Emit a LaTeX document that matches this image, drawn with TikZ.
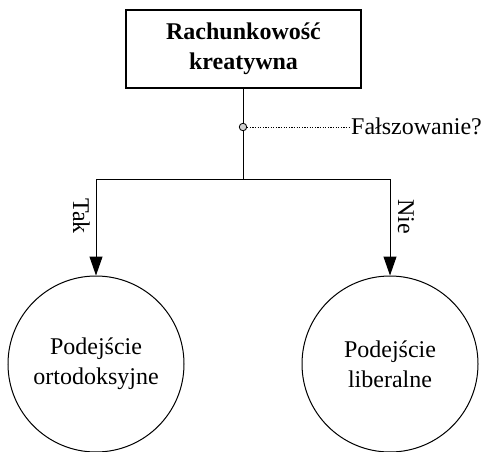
\documentclass[tikz,border=0pt]{standalone}
\usepackage{fontspec}
\setmainfont{Liberation Serif}
\usetikzlibrary{arrows.meta}
\tikzset{
  titlebox/.style={draw, line width=1.4pt, minimum width=235pt, minimum height=78pt,
    align=center, font=\fontsize{24}{30}\selectfont\bfseries, inner sep=0pt},
  approach/.style={draw, circle, line width=1pt, minimum size=176pt, align=center,
    font=\fontsize{24}{30}\selectfont, inner sep=0pt},
  lbl/.style={font=\fontsize{24}{30}\selectfont, inner sep=0pt},
  sidelbl/.style={lbl, rotate=-90, anchor=base west},
  wire/.style={line width=1pt},
  branch/.style={wire, -{Triangle[length=19pt,width=13pt]}},
  joint/.style={draw, circle, fill=black!18, line width=0.8pt, minimum size=7.5pt, inner sep=0pt},
  leader/.style={line width=1pt, dash pattern=on 1.2pt off 1.4pt}
}
\begin{document}
\begin{tikzpicture}[x=1pt,y=-1pt]
  \useasboundingbox (0,0) rectangle (487,452);
  % decision box and the question on its stem
  \node[titlebox] (top) at (243.5,49) {Rachunkowość\\kreatywna};
  \node[joint] (q) at (243,127) {};
  \node[lbl, anchor=base west] (ask) at (351,134) {Fałszowanie?};
  \coordinate (split) at (243,179);
  \coordinate (lsplit) at (96,179);
  \coordinate (rsplit) at (390,179);
  % outcomes
  \node[approach] (left) at (96,364) {Podejście\\ortodoksyjne};
  \node[approach] (right) at (390,364) {Podejście\\liberalne};
  \draw[wire] (top.south -| q) -- (q.north);
  \draw[wire] (q.south) -- (split);
  \draw[wire] (lsplit) -- (rsplit);
  \draw[leader] (q.east) -- (ask.west |- q);
  \draw[branch] (lsplit) -- (left.north);
  \draw[branch] (rsplit) -- (right.north);
  \node[sidelbl] (tak) at (73,198) {Tak};
  \node[sidelbl] (nie) at (398,199) {Nie};
\end{tikzpicture}
\end{document}
